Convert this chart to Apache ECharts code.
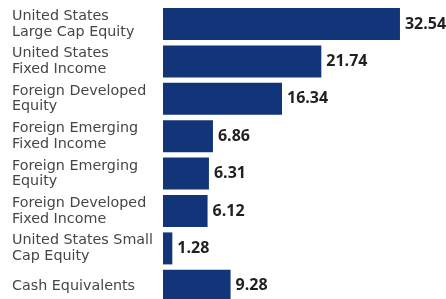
<!DOCTYPE html>
<html>
<head>
<meta charset="utf-8">
<script src="https://cdn.jsdelivr.net/npm/echarts@6/dist/echarts.min.js"></script>
<style>
  html, body { margin: 0; padding: 0; background: #fff; overflow: hidden; }
  /* taller than the window so the last bar runs off the bottom edge like the original */
  #chart { width: 446px; height: 306px; }
</style>
</head>
<body>
<div id="chart"></div>
<script>
const categories = [
  'United States\nLarge Cap Equity',
  'United States\nFixed Income',
  'Foreign Developed\nEquity',
  'Foreign Emerging\nFixed Income',
  'Foreign Emerging\nEquity',
  'Foreign Developed\nFixed Income',
  'United States Small\nCap Equity',
  'Cash Equivalents'
]
const values = [32.54, 21.74, 16.34, 6.86, 6.31, 6.12, 1.28, 9.28]

const chart = echarts.init(document.getElementById('chart'))
chart.setOption({
  animation: false,
  grid: { left: 163, top: 5.3, right: 0, height: 299.2 },
  xAxis: {
    type: 'value',
    min: 0,
    max: 38.86,
    show: false
  },
  yAxis: {
    type: 'category',
    data: categories,
    inverse: true,
    axisLine: { show: false },
    axisTick: { show: false },
    axisLabel: {
      align: 'left',
      margin: 151,
      color: '#464646',
      fontFamily: 'DejaVu Sans',
      fontSize: 14.3,
      lineHeight: 15.6
    }
  },
  series: [{
    type: 'bar',
    data: values,
    barWidth: 32,
    itemStyle: { color: '#12357a' },
    label: {
      show: true,
      position: 'right',
      distance: 5,
      color: '#231f20',
      fontFamily: 'Open Sans',
      fontWeight: 'bold',
      fontSize: 16,
      formatter: p => p.value.toFixed(2)
    }
  }]
})
</script>
</body>
</html>
